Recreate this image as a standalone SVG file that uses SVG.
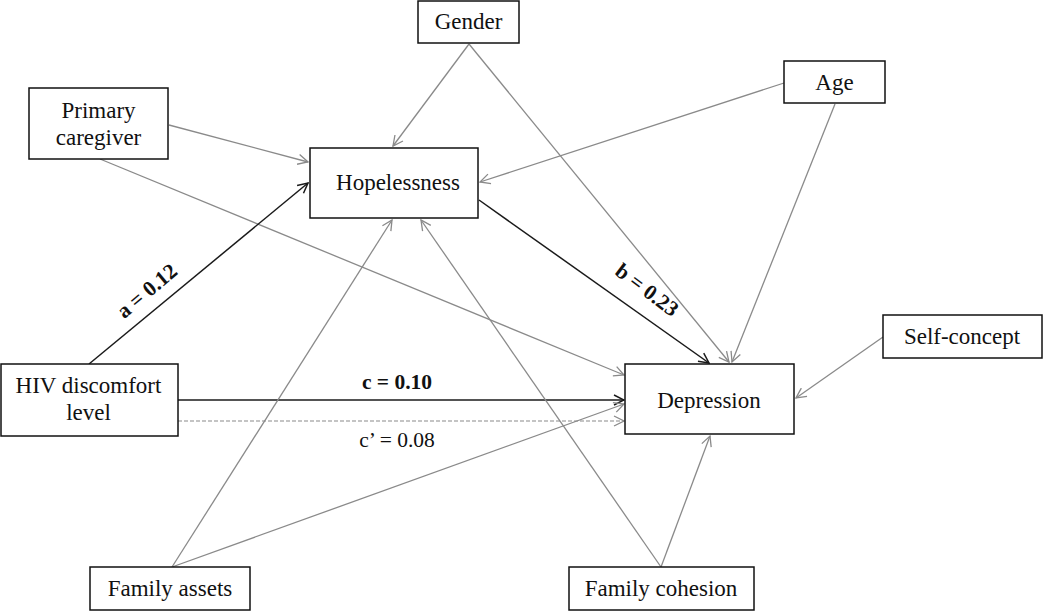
<svg xmlns="http://www.w3.org/2000/svg" width="1050" height="611" viewBox="0 0 1050 611">
<style>
.box{fill:#fff;stroke:#111;stroke-width:1.5}
.t{font-family:"Liberation Serif","Times New Roman",serif;font-size:23px;fill:#111;text-anchor:middle}
.l{font-size:21.5px}
.b{font-weight:bold}
.g{stroke:#8a8a8a;stroke-width:1.3;fill:none;marker-end:url(#ag)}
.k{stroke:#1a1a1a;stroke-width:1.5;fill:none;marker-end:url(#ak)}
.d{stroke:#8a8a8a;stroke-width:1.2;fill:none;stroke-dasharray:4 2;marker-end:url(#ag)}
</style>
<defs>
<marker id="ag" viewBox="0 0 12 12" refX="11" refY="6" markerWidth="12" markerHeight="12" markerUnits="userSpaceOnUse" orient="auto"><path d="M1,1 L11,6 L1,11" fill="none" stroke="#8a8a8a" stroke-width="1.3"/></marker>
<marker id="ak" viewBox="0 0 12 12" refX="11" refY="6" markerWidth="12" markerHeight="12" markerUnits="userSpaceOnUse" orient="auto"><path d="M1,1 L11,6 L1,11" fill="none" stroke="#1a1a1a" stroke-width="1.5"/></marker>
</defs>
<g id="connectors">
<line class="g" x1="469" y1="44" x2="393" y2="146"/>
<line class="g" x1="469" y1="44" x2="729" y2="362"/>
<line class="g" x1="784" y1="83" x2="480" y2="182"/>
<line class="g" x1="835" y1="104" x2="732" y2="362"/>
<line class="g" x1="169" y1="125" x2="308" y2="162"/>
<line class="g" x1="100" y1="159" x2="624" y2="375"/>
<line class="k" x1="89" y1="364" x2="308" y2="183"/>
<line class="k" x1="479" y1="200" x2="709" y2="363"/>
<line class="k" x1="178" y1="400" x2="624" y2="400"/>
<line class="d" x1="178" y1="421" x2="624" y2="421"/>
<line class="g" x1="172" y1="567" x2="392" y2="220"/>
<line class="g" x1="172" y1="567" x2="624" y2="404"/>
<line class="g" x1="661" y1="567" x2="421" y2="220"/>
<line class="g" x1="661" y1="567" x2="710" y2="436"/>
<line class="g" x1="883" y1="337" x2="796" y2="398"/>
<text class="t l b" transform="translate(147,291) rotate(-40)" y="7">a = 0.12</text>
<text class="t l b" transform="translate(647,290) rotate(37)" y="7">b = 0.23</text>
<text class="t l b" x="397" y="389">c = 0.10</text>
<text class="t l" x="397" y="447">c’ = 0.08</text>
</g>
<g id="gender"><rect class="box" x="418" y="1" width="101" height="42"/><text class="t" x="468.5" y="29">Gender</text></g>
<g id="age"><rect class="box" x="784" y="61" width="101" height="42"/><text class="t" x="834.5" y="90">Age</text></g>
<g id="primary-caregiver"><rect class="box" x="29" y="88" width="139" height="71"/><text class="t" x="98.5" y="118">Primary</text><text class="t" x="98.5" y="145">caregiver</text></g>
<g id="hopelessness"><rect class="box" x="310" y="148" width="168" height="70"/><text class="t" x="398" y="190">Hopelessness</text></g>
<g id="hiv"><rect class="box" x="1" y="364" width="177" height="72"/><text class="t" x="88.5" y="393">HIV discomfort</text><text class="t" x="88.5" y="420">level</text></g>
<g id="depression"><rect class="box" x="625" y="364" width="169" height="70"/><text class="t" x="709" y="408">Depression</text></g>
<g id="self-concept"><rect class="box" x="883" y="315" width="159" height="43"/><text class="t" x="962" y="344">Self-concept</text></g>
<g id="family-assets"><rect class="box" x="90" y="567" width="160" height="43"/><text class="t" x="170" y="596">Family assets</text></g>
<g id="family-cohesion"><rect class="box" x="569" y="567" width="185" height="43"/><text class="t" x="661" y="596">Family cohesion</text></g>
</svg>
